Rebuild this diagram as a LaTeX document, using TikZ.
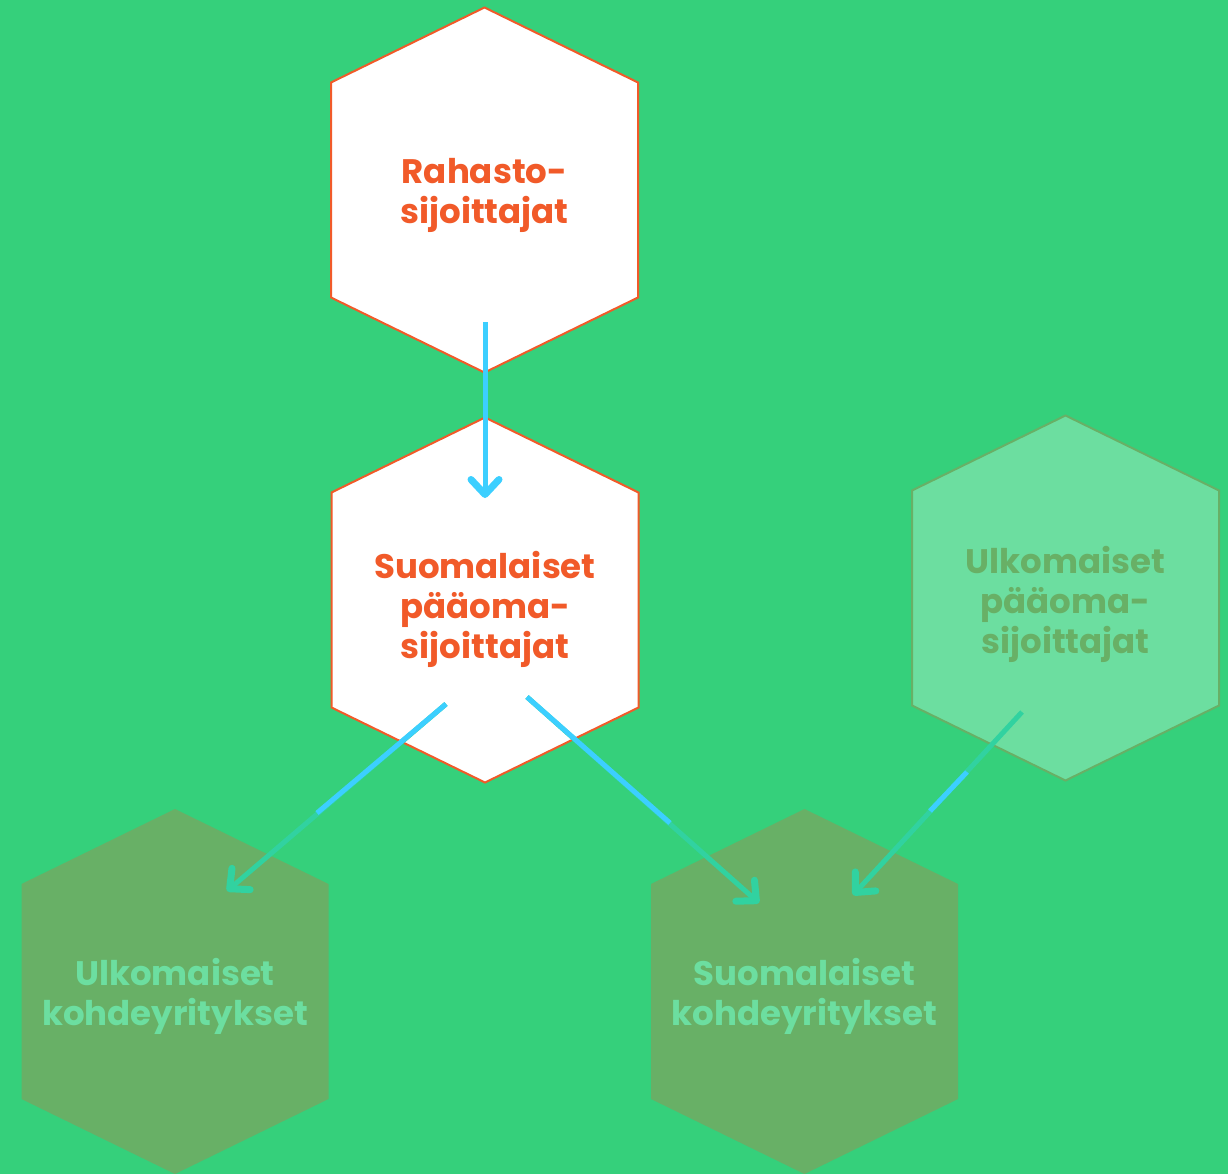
\documentclass[tikz,border=0pt]{standalone}
\usepackage{fontspec}
\setmainfont{Poppins}[BoldFont={Poppins Bold}]
\usetikzlibrary{arrows.meta}
\definecolor{bg}{HTML}{35D07B}
\definecolor{orangec}{HTML}{F15A29}
\definecolor{bluec}{HTML}{3CCFFF}
\definecolor{tealc}{HTML}{31D2A0}
\definecolor{lightg}{HTML}{6CDEA0}
\definecolor{oliveg}{HTML}{68B066}
\tikzset{
  hexagon/.pic={\path[pic actions] (0,-182.5) -- (153.5,-107.5) -- (153.5,107.5) -- (0,182.5) -- (-153.5,107.5) -- (-153.5,-107.5) -- cycle;},
  hexmain/.style={draw=orangec, fill=white, line width=2pt},
  hexforeign/.style={draw=oliveg, fill=lightg, line width=2pt},
  hextarget/.style={fill=oliveg},
  lbl/.style={align=center, font=\bfseries\fontsize{34}{40}\selectfont, inner sep=0pt},
  flow/.style={line width=5pt, -{Straight Barb[length=15pt,width=28pt,line width=7pt,round]}},
  seg/.style={line width=5pt}
}
\begin{document}
\begin{tikzpicture}[x=1pt,y=-1pt]
\fill[bg] (0,0) rectangle (1228,1174);
\useasboundingbox (0,0) rectangle (1228,1174);

\pic[hexmain] at (484.5,190) {hexagon};
\pic[hexmain] at (485,600) {hexagon};
\pic[hexforeign] at (1065.5,598) {hexagon};
\pic[hextarget] at (175,991.5) {hexagon};
\pic[hextarget] at (804.5,991.5) {hexagon};

\node[lbl, text=orangec] (rahasto) at (484.5,195) {Rahasto-\\sijoittajat};
\node[lbl, text=orangec] (suompo) at (485,609) {Suomalaiset\\pääoma-\\sijoittajat};
\node[lbl, text=oliveg] (ulkopo) at (1065.5,604) {Ulkomaiset\\pääoma-\\sijoittajat};
\node[lbl, text=lightg] (ulkoky) at (175,996) {Ulkomaiset\\kohdeyritykset};
\node[lbl, text=lightg] (suomky) at (804.5,996) {Suomalaiset\\kohdeyritykset};

% connector anchor points
\coordinate (a1s) at (485,322);
\coordinate (a1e) at (485,498);
\coordinate (a2s) at (446,704);
\coordinate (a2m) at (317,813);
\coordinate (a2e) at (227,891);
\coordinate (a3s) at (527,697);
\coordinate (a3m) at (670,823);
\coordinate (a3e) at (759,903);
\coordinate (a4s) at (1022,712);
\coordinate (a4m) at (967,772);
\coordinate (a4n) at (930,811);
\coordinate (a4e) at (853,895);

\draw[flow, bluec] (a1s) -- (a1e);
\draw[flow, tealc] (a2s) -- (a2e);
\draw[seg, bluec] (a2s) -- (a2m);
\draw[flow, tealc] (a3s) -- (a3e);
\draw[seg, bluec] (a3s) -- (a3m);
\draw[flow, tealc] (a4s) -- (a4e);
\draw[seg, bluec] (a4m) -- (a4n);
\end{tikzpicture}
\end{document}
